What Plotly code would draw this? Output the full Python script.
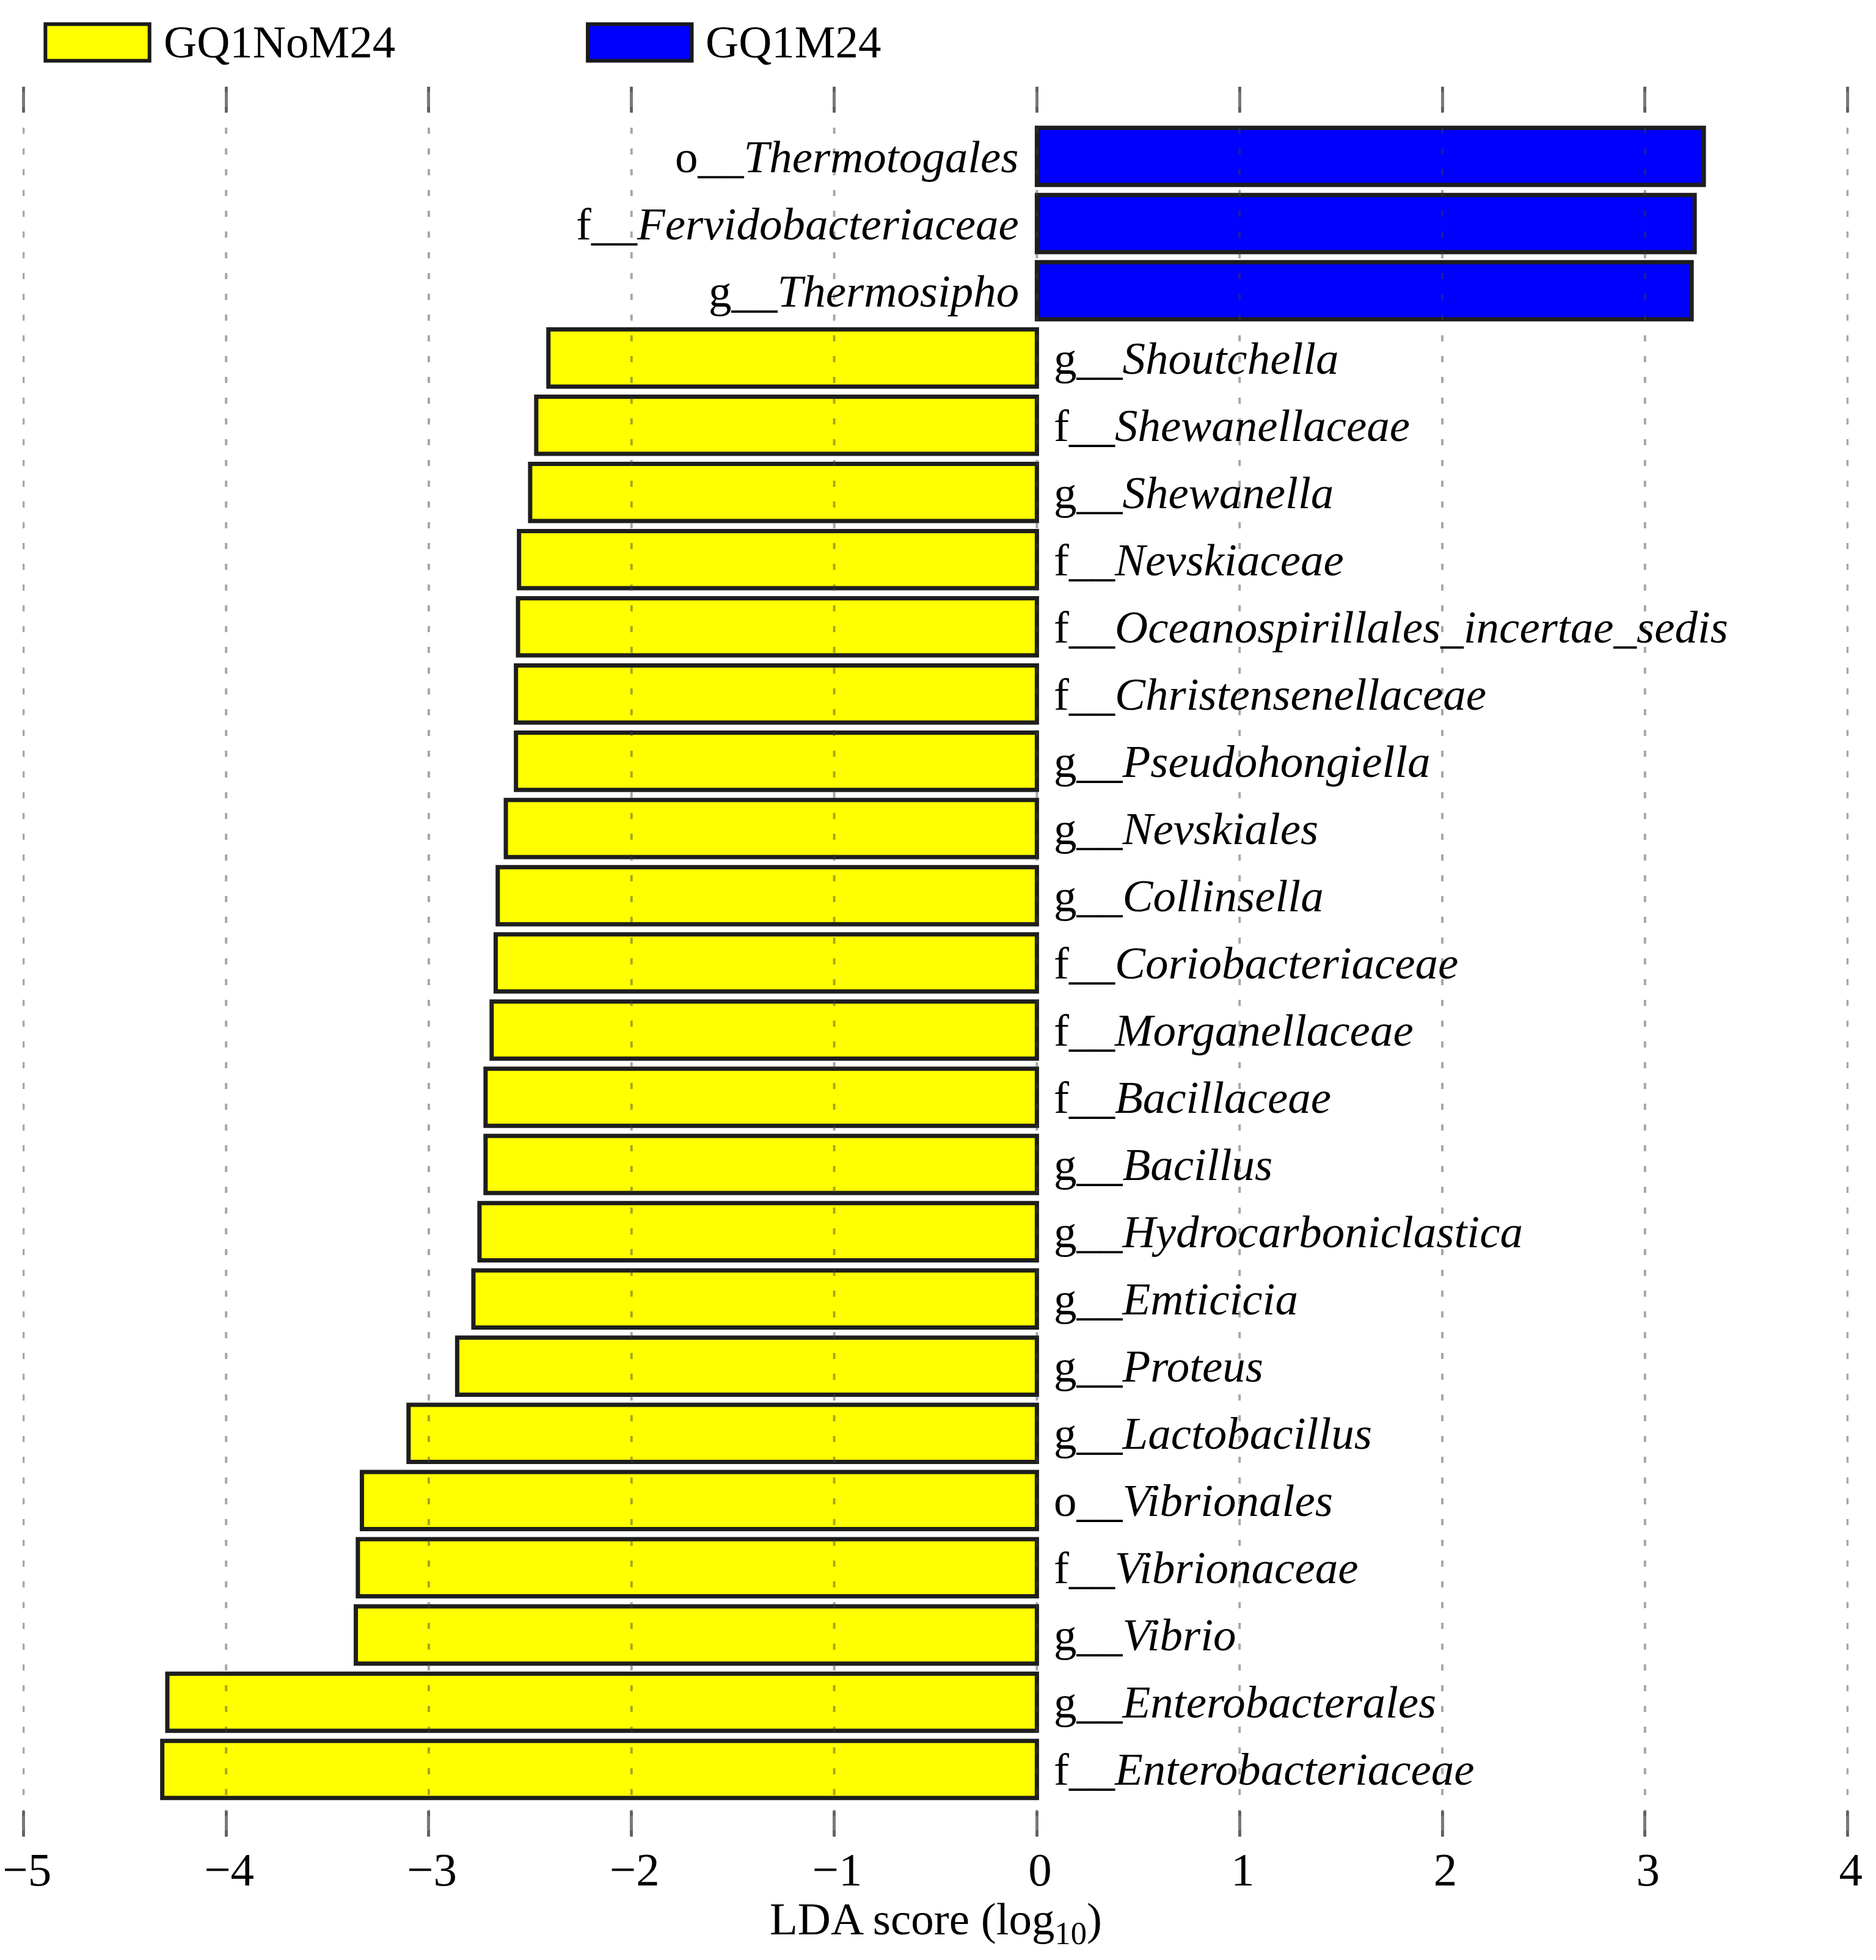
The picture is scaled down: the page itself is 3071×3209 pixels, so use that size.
import plotly.graph_objects as go

# LEfSe LDA scores, top to bottom as drawn
ranks = ["o", "f", "g", "g", "f", "g", "f", "f", "f", "g", "g", "g", "f",
         "f", "f", "g", "g", "g", "g", "g", "o", "f", "g", "g", "f"]
taxa = ["Thermotogales", "Fervidobacteriaceae", "Thermosipho", "Shoutchella",
        "Shewanellaceae", "Shewanella", "Nevskiaceae",
        "Oceanospirillales_incertae_sedis", "Christensenellaceae",
        "Pseudohongiella", "Nevskiales", "Collinsella", "Coriobacteriaceae",
        "Morganellaceae", "Bacillaceae", "Bacillus", "Hydrocarboniclastica",
        "Emticicia", "Proteus", "Lactobacillus", "Vibrionales", "Vibrionaceae",
        "Vibrio", "Enterobacterales", "Enterobacteriaceae"]
lda = [3.29, 3.245, 3.23, -2.41, -2.47, -2.50, -2.555, -2.56, -2.57, -2.57,
       -2.62, -2.66, -2.67, -2.69, -2.72, -2.72, -2.75, -2.78, -2.86, -3.10,
       -3.33, -3.35, -3.36, -4.29, -4.315]
groups = ["GQ1NoM24", "GQ1M24"]
group_colors = {"GQ1NoM24": "#FFFF00", "GQ1M24": "#0000FF"}
xticks = [-5, -4, -3, -2, -1, 0, 1, 2, 3, 4]

FONT = "Liberation Serif"
labels = [f"{r}__<i>{t}</i>" for r, t in zip(ranks, taxa)]
group_of = ["GQ1M24" if v > 0 else "GQ1NoM24" for v in lda]

fig = go.Figure()
for g in groups:
    idx = [i for i, gg in enumerate(group_of) if gg == g]
    fig.add_trace(go.Bar(
        x=[lda[i] for i in idx],
        y=[labels[i] for i in idx],
        orientation="h",
        name=g,
        showlegend=False,
        marker=dict(color=group_colors[g], line=dict(color="#1e1e1e", width=7)),
    ))

# labels next to the bars: left of positive bars, right of negative ones
for lab, v in zip(labels, lda):
    fig.add_annotation(
        x=0, y=lab, text=lab, showarrow=False,
        xanchor="right" if v > 0 else "left",
        xshift=-27 if v > 0 else 26,
        font=dict(family=FONT, size=75, color="black"),
    )

# dotted grid drawn over the bars like in the original
for t in xticks:
    fig.add_vline(x=t, line=dict(color="rgba(60,60,60,0.45)", width=4, dash="10px,24px"),
                  layer="above")

# legend boxes
legend_x = [0.0125, 0.3095]
for g, x0 in zip(groups, legend_x):
    fig.add_shape(type="rect", xref="paper", yref="paper",
                  x0=x0, x1=x0 + 0.057, y0=1.0148, y1=1.0358,
                  fillcolor=group_colors[g], line=dict(color="#1a1a1a", width=6))
    fig.add_annotation(xref="paper", yref="paper", x=x0 + 0.064, y=1.0258,
                       text=g, showarrow=False, xanchor="left", yanchor="middle",
                       font=dict(family=FONT, size=75, color="black"))

# axis title placed under the tick labels
fig.add_annotation(xref="paper", yref="paper", x=0.5, y=-0.049,
                   text="LDA score (log<sub>10</sub>)", showarrow=False,
                   xanchor="center", yanchor="middle",
                   font=dict(family=FONT, size=75, color="black"))

fig.update_layout(
    width=3071, height=3209,
    margin=dict(l=29, r=53, t=134, b=210),
    paper_bgcolor="white", plot_bgcolor="white",
    bargap=0.15,
    font=dict(family=FONT, size=77, color="black"),
    xaxis=dict(
        range=[-5.004, 4.004], tickvals=xticks, showgrid=False, zeroline=False,
        ticks="inside", ticklen=42, tickwidth=5, tickcolor="#7a7a7a",
        mirror="ticks", showline=False, ticklabelstandoff=2,
        ticklabelshift=5, ticklabeloverflow="allow", automargin=False,
        tickfont=dict(family=FONT, size=77),
    ),
    yaxis=dict(
        categoryorder="array", categoryarray=labels,
        range=[25.0, -1.036], showticklabels=False, showgrid=False,
        zeroline=False, ticks="", automargin=False,
    ),
)

fig.write_html("out.html")
